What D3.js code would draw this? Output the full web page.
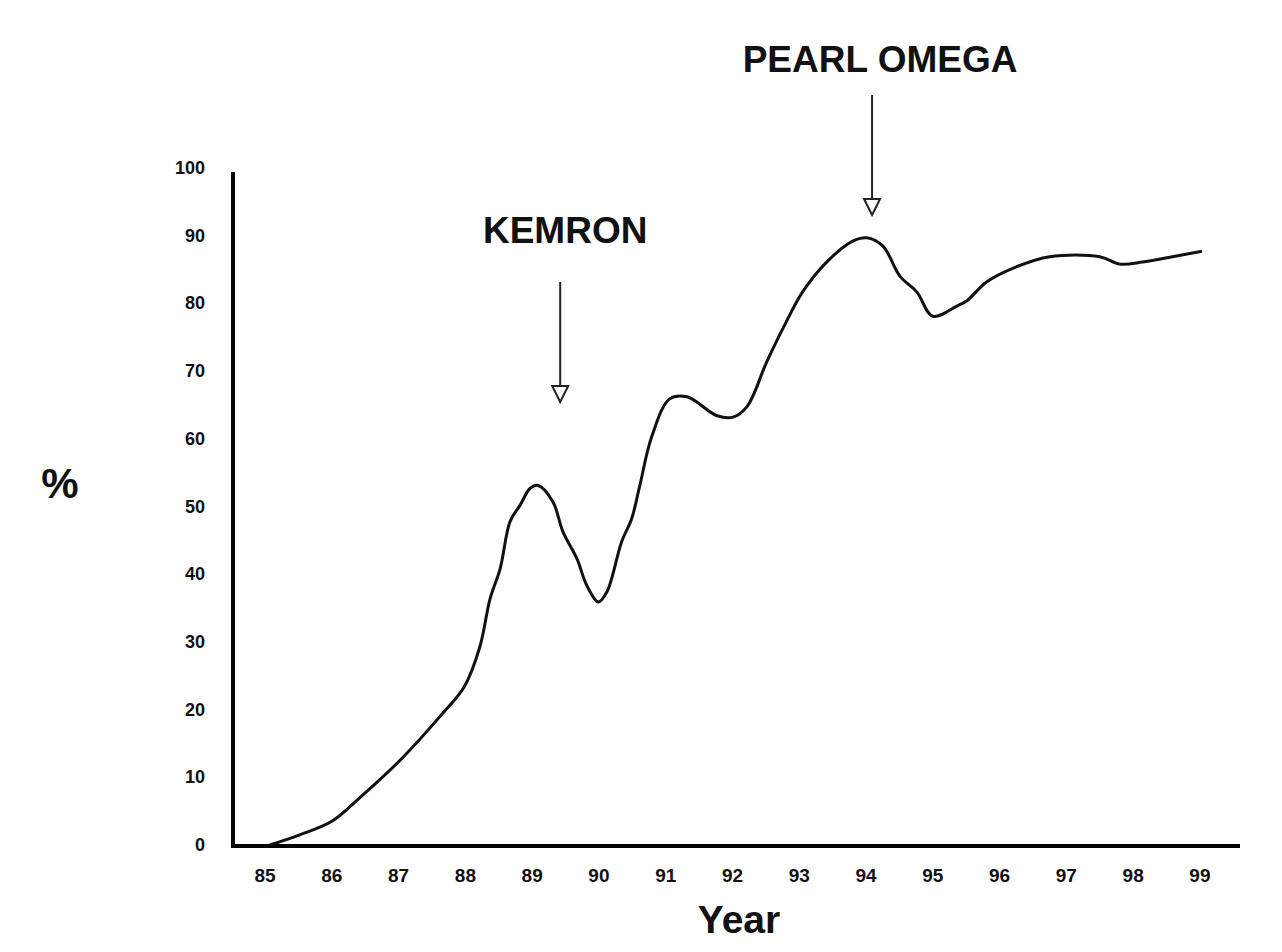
<!DOCTYPE html>
<html>
<head>
<meta charset="utf-8">
<script src="https://cdn.jsdelivr.net/npm/d3@7"></script>
<style>
  body { margin: 0; background: #fff; }
  text { font-family: "Liberation Sans", Arial, sans-serif; font-weight: bold; fill: #111; }
</style>
</head>
<body>
<svg width="1282" height="952"></svg>
<script>
"use strict";

// years along the x axis (19xx)
const yearTicks = [85, 86, 87, 88, 89, 90, 91, 92, 93, 94, 95, 96, 97, 98, 99];
const pctTicks = [0, 10, 20, 30, 40, 50, 60, 70, 80, 90, 100];

// curve: year (decimal) and percent
const years = [85.07, 85.52, 86.0, 86.42, 87.02, 87.62, 87.99, 88.22, 88.37, 88.52,
  88.67, 88.82, 88.97, 89.09, 89.31, 89.46, 89.67, 89.82, 89.99, 90.12,
  90.34, 90.49, 90.61, 90.79, 91.06, 91.32, 91.77, 92.01, 92.22, 92.51,
  92.75, 93.05, 93.41, 93.8, 94.01, 94.25, 94.51, 94.76, 95.0, 95.36,
  95.51, 95.81, 96.25, 96.75, 97.5, 97.8, 98.14, 98.59, 99.03];
const percent = [0, 1.5, 3.5, 7, 12.5, 19, 23.5, 29.4, 36.4, 40.8,
  47.8, 50.2, 52.7, 53.1, 50.7, 46.3, 42.3, 38.3, 35.9, 37.4,
  44.8, 48.2, 53, 60.3, 65.9, 66.2, 63.4, 63.2, 64.8, 71.3,
  76.2, 81.7, 86.1, 89.2, 89.7, 88.5, 84.0, 81.7, 78.1, 79.6,
  80.4, 83.2, 85.4, 86.9, 86.9, 85.8, 86.1, 86.9, 87.7];

// arrow annotations
const noteLabels = ["KEMRON", "PEARL OMEGA"];
const noteYears = [89.42, 94.09];

const svg = d3.select("svg");

const x = d3.scaleLinear().domain([84.52, 99.6]).range([233, 1240]);
const y = d3.scaleLinear().domain([0, 100]).range([845, 168]);

// axes drawn as plain heavy lines, no tick marks
svg.append("line")
  .attr("x1", x(84.52)).attr("x2", x(84.52))
  .attr("y1", 172).attr("y2", y(0) + 2)
  .attr("stroke", "#000").attr("stroke-width", 4);
svg.append("line")
  .attr("x1", x(84.52) - 2).attr("x2", x(99.6))
  .attr("y1", y(0) + 1).attr("y2", y(0) + 1)
  .attr("stroke", "#000").attr("stroke-width", 4);

// tick labels
svg.append("g").selectAll("text")
  .data(pctTicks).enter().append("text")
  .attr("x", 205)
  .attr("y", d => y(d) + 6)
  .attr("text-anchor", "end")
  .attr("font-size", 18)
  .text(d => d);

svg.append("g").selectAll("text")
  .data(yearTicks).enter().append("text")
  .attr("x", d => x(d))
  .attr("y", 882)
  .attr("text-anchor", "middle")
  .attr("font-size", 19)
  .text(d => d);

// axis titles
svg.append("text").attr("x", 739).attr("y", 933)
  .attr("text-anchor", "middle").attr("font-size", 39).text("Year");
svg.append("text").attr("x", 60).attr("y", 498)
  .attr("text-anchor", "middle").attr("font-size", 42).text("%");

// the curve
const line = d3.line()
  .x(d => x(d[0]))
  .y(d => y(d[1]))
  .curve(d3.curveCatmullRom.alpha(0.5));

svg.append("path")
  .datum(years.map((d, i) => [d, percent[i]]))
  .attr("d", line)
  .attr("fill", "none")
  .attr("stroke", "#111")
  .attr("stroke-width", 3)
  .attr("stroke-linejoin", "round");

// annotations: label, thin arrow with hollow head
const noteTextY = [243, 72];
const noteTop = [282, 95];
const noteTip = [402, 215];
const noteSize = [37, 37];

noteLabels.forEach((label, i) => {
  const cx = x(noteYears[i]);
  svg.append("text")
    .attr("x", cx + (i === 0 ? 5 : 8))
    .attr("y", noteTextY[i])
    .attr("text-anchor", "middle")
    .attr("font-size", noteSize[i])
    .text(label);
  svg.append("line")
    .attr("x1", cx).attr("x2", cx)
    .attr("y1", noteTop[i]).attr("y2", noteTip[i] - 16)
    .attr("stroke", "#222").attr("stroke-width", 2);
  svg.append("path")
    .attr("d", `M${cx - 8},${noteTip[i] - 16} L${cx + 8},${noteTip[i] - 16} L${cx},${noteTip[i]} Z`)
    .attr("fill", "#fff")
    .attr("stroke", "#222")
    .attr("stroke-width", 2);
});
</script>
</body>
</html>
